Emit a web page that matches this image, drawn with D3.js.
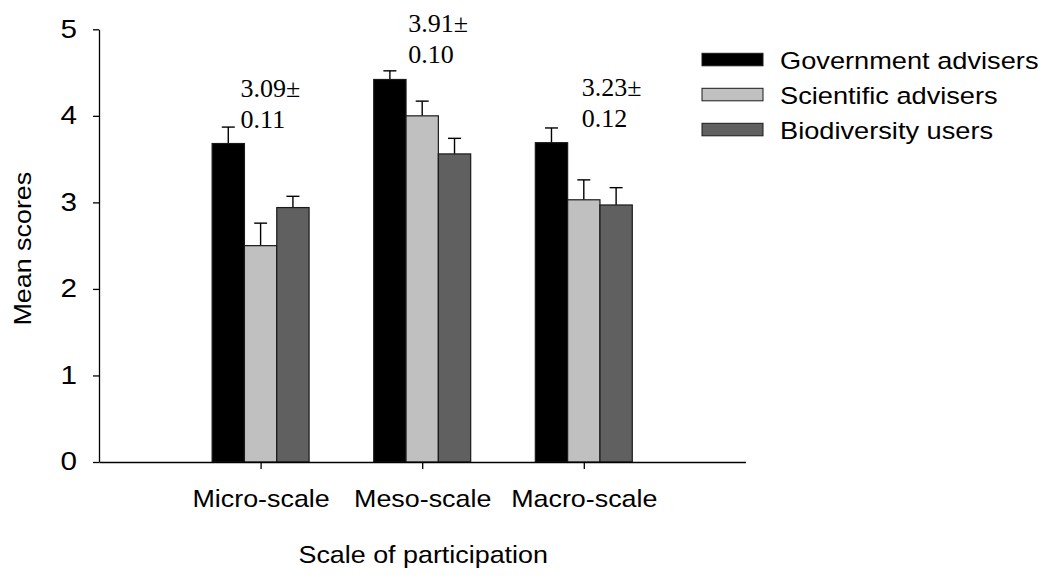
<!DOCTYPE html>
<html>
<head>
<meta charset="utf-8">
<script src="https://cdn.jsdelivr.net/npm/d3@7"></script>
<style>
  html, body { margin: 0; padding: 0; background: #ffffff; }
  svg { display: block; }
  .sans { font-family: Arial, "Liberation Sans", Helvetica, sans-serif; fill: #000; }
  .serif { font-family: "Times New Roman", "Liberation Serif", Times, serif; fill: #000; }
</style>
</head>
<body>
<svg id="chart" width="1053" height="583"></svg>
<script>
// Participation scales and respondent groups
const categories = ["Micro-scale", "Meso-scale", "Macro-scale"];
const seriesNames = ["Government advisers", "Scientific advisers", "Biodiversity users"];

// Mean scores per group (one value per scale)
const governmentMeans = [3.68, 4.42, 3.69];
const scientificMeans = [2.50, 4.00, 3.03];
const biodiversityMeans = [2.94, 3.56, 2.97];

// Standard errors (upper error bars)
const governmentErrors = [0.19, 0.10, 0.17];
const scientificErrors = [0.26, 0.17, 0.23];
const biodiversityErrors = [0.13, 0.18, 0.20];

// Overall mean ± SE per scale
const overallMeans = ["3.09", "3.91", "3.23"];
const overallErrors = ["0.11", "0.10", "0.12"];

const yTickValues = [0, 1, 2, 3, 4, 5];

const seriesColors = ["#000000", "#c0c0c0", "#606060"];
const seriesMeans = [governmentMeans, scientificMeans, biodiversityMeans];
const seriesErrors = [governmentErrors, scientificErrors, biodiversityErrors];

// Horizontal stretch applied to sans-serif labels
const STRETCH = 1.12;

const svg = d3.select("#chart");

const plotLeft = 99, plotRight = 745.4, plotTop = 29.3, plotBottom = 462;

// Categories sit at positions 1..3 on a 0..4 axis
const x = d3.scaleLinear().domain([0, 4]).range([plotLeft, plotRight]);
const y = d3.scaleLinear().domain([0, 5]).range([plotBottom, plotTop]);
const barW = x(0.2) - x(0);

// Bars and error bars
const rows = [];
seriesMeans.forEach((vals, s) => {
  vals.forEach((v, c) => {
    rows.push({ s, c, v, e: seriesErrors[s][c] });
  });
});

const barX = d => x(d.c + 1) - 1.5 * barW + d.s * barW;

const errG = svg.append("g");
errG.selectAll("line.stem").data(rows).join("line")
  .attr("class", "stem")
  .attr("x1", d => barX(d) + barW / 2)
  .attr("x2", d => barX(d) + barW / 2)
  .attr("y1", d => y(d.v))
  .attr("y2", d => y(d.v + d.e))
  .attr("stroke", "#000").attr("stroke-width", 1.4);
errG.selectAll("line.cap").data(rows).join("line")
  .attr("class", "cap")
  .attr("x1", d => barX(d) + barW / 2 - 6.5)
  .attr("x2", d => barX(d) + barW / 2 + 6.5)
  .attr("y1", d => y(d.v + d.e))
  .attr("y2", d => y(d.v + d.e))
  .attr("stroke", "#000").attr("stroke-width", 1.4);

svg.append("g").selectAll("rect").data(rows).join("rect")
  .attr("x", barX)
  .attr("y", d => y(d.v))
  .attr("width", barW)
  .attr("height", d => y(0) - y(d.v))
  .attr("fill", d => seriesColors[d.s])
  .attr("stroke", "#1a1a1a")
  .attr("stroke-width", 1.2);

// Y axis
const yAxis = svg.append("g")
  .attr("transform", `translate(${plotLeft},0)`)
  .call(d3.axisLeft(y).tickValues(yTickValues).tickSize(6).tickSizeOuter(0).tickFormat(d3.format("d")));
yAxis.select(".domain").attr("stroke", "#000").attr("stroke-width", 1.3);
yAxis.selectAll(".tick line").attr("stroke", "#000").attr("stroke-width", 1.3);
yAxis.selectAll(".tick text")
  .attr("class", "sans")
  .attr("font-size", 26.5)
  .attr("x", -22 / STRETCH)
  .attr("dy", "0.30em")
  .attr("transform", `scale(${STRETCH},1)`);

// X axis
const xAxis = svg.append("g")
  .attr("transform", `translate(0,${plotBottom})`)
  .call(d3.axisBottom(x).tickValues([1, 2, 3]).tickSize(7).tickSizeOuter(0)
    .tickFormat(i => categories[i - 1]));
xAxis.select(".domain").attr("stroke", "#000").attr("stroke-width", 1.3);
xAxis.selectAll(".tick line").attr("stroke", "#000").attr("stroke-width", 1.3);
xAxis.selectAll(".tick text")
  .attr("class", "sans")
  .attr("font-size", 24)
  .attr("y", 45).attr("dy", 0)
  .attr("transform", `scale(${STRETCH},1)`);

// Stretched sans text helper
function sansText(tx, ty, str, size, anchor, rotate) {
  return svg.append("text")
    .attr("class", "sans")
    .attr("font-size", size)
    .attr("text-anchor", anchor)
    .attr("transform", `translate(${tx},${ty})${rotate ? ` rotate(${rotate})` : ""} scale(${STRETCH},1)`)
    .text(str);
}

// Axis titles
sansText(31, (plotTop + plotBottom) / 2 + 3, "Mean scores", 24, "middle", -90);
sansText((plotLeft + plotRight) / 2 + 1, 563, "Scale of participation", 24, "middle");

// Overall mean ± SE labels above each group
const annLayout = [
  { dx: -20, base: 97 },
  { dx: -14, base: 32 },
  { dx: -2, base: 96 }
];
categories.forEach((c, i) => {
  const g = svg.append("text").attr("class", "serif").attr("font-size", 26);
  const ax = x(i + 1) + annLayout[i].dx;
  g.append("tspan").attr("x", ax).attr("y", annLayout[i].base).text(overallMeans[i] + "±");
  g.append("tspan").attr("x", ax).attr("y", annLayout[i].base + 31).text(overallErrors[i]);
});

// Legend
const legend = svg.append("g");
seriesNames.forEach((name, s) => {
  const ty = 53.3 + s * 35;
  legend.append("rect")
    .attr("x", 702).attr("y", ty)
    .attr("width", 61).attr("height", 12.5)
    .attr("fill", seriesColors[s])
    .attr("stroke", "#1a1a1a").attr("stroke-width", 1);
  sansText(780, ty + 16, name, 24.3, "start");
});
</script>
</body>
</html>
